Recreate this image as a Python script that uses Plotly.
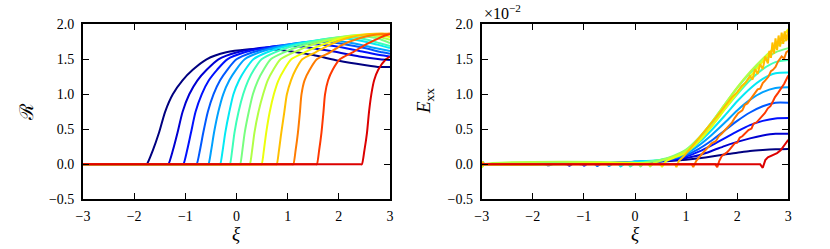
import plotly.graph_objects as go

# ---------------- data ----------------
TICKS_X = [-3, -2, -1, 0, 1, 2, 3]
TICKS_Y = [-0.5, 0.0, 0.5, 1.0, 1.5, 2.0]

# Left panel: R(xi), 14 curves
LEFT_XI = [
    [-3, -1.785, -1.755, -1.635, -1.515, -1.395, -1.245, -1.055, -0.855, -0.585, -0.2, 0.2, 0.55, 1.0, 1.5, 2.0, 2.5, 2.8, 3.0],
    [-3, -1.363, -1.333, -1.243, -1.153, -1.053, -0.923, -0.763, -0.583, -0.353, 0.017, 0.45, 1.0, 1.4, 1.9, 2.4, 2.8, 3.0],
    [-3, -1.07, -1.04, -0.965, -0.89, -0.80, -0.68, -0.54, -0.38, -0.18, 0.16, 0.6, 1.1, 1.4, 1.9, 2.4, 2.8, 3.0],
    [-3, -0.81, -0.78, -0.715, -0.65, -0.56, -0.45, -0.32, -0.18, 0.0, 0.32, 0.75, 1.2, 1.6, 2.0, 2.5, 2.85, 3.0],
    [-3, -0.58, -0.55, -0.495, -0.44, -0.355, -0.26, -0.14, -0.01, 0.16, 0.45, 0.95, 1.4, 1.8, 2.2, 2.65, 3.0],
    [-3, -0.35, -0.32, -0.27, -0.22, -0.14, -0.06, 0.05, 0.17, 0.33, 0.60, 1.05, 1.55, 2.0, 2.4, 2.75, 3.0],
    [-3, -0.16, -0.13, -0.085, -0.04, 0.04, 0.13, 0.23, 0.34, 0.49, 0.75, 1.15, 1.65, 2.1, 2.5, 2.8, 3.0],
    [-3, 0.04, 0.07, 0.115, 0.16, 0.24, 0.32, 0.42, 0.53, 0.67, 0.93, 1.3, 1.8, 2.3, 2.75, 3.0],
    [-3, 0.23, 0.26, 0.305, 0.35, 0.43, 0.52, 0.61, 0.72, 0.86, 1.12, 1.45, 1.95, 2.45, 2.8, 3.0],
    [-3, 0.46, 0.49, 0.535, 0.58, 0.65, 0.73, 0.82, 0.93, 1.07, 1.33, 1.65, 2.05, 2.6, 3.0],
    [-3, 0.755, 0.785, 0.83, 0.875, 0.935, 0.985, 1.065, 1.155, 1.285, 1.545, 1.8, 2.15, 2.6, 2.85, 3.0],
    [-3, 1.08, 1.11, 1.155, 1.2, 1.24, 1.27, 1.33, 1.43, 1.57, 1.83, 2.05, 2.4, 2.7, 3.0],
    [-3, 1.54, 1.57, 1.615, 1.66, 1.70, 1.73, 1.79, 1.88, 2.02, 2.27, 2.5, 2.72, 2.9, 3.0],
    [-3, 2.42, 2.45, 2.50, 2.55, 2.59, 2.635, 2.69, 2.77, 2.92, 3.0],
]
LEFT_R = [
    [0, 0, 0, 0.2, 0.45, 0.75, 1.0, 1.2, 1.35, 1.5, 1.6, 1.64, 1.65, 1.62, 1.56, 1.48, 1.42, 1.39, 1.39],
    [0, 0, 0, 0.2, 0.45, 0.75, 1.0, 1.2, 1.35, 1.5, 1.6, 1.66, 1.69, 1.67, 1.61, 1.54, 1.50, 1.49],
    [0, 0, 0, 0.2, 0.45, 0.75, 1.0, 1.2, 1.35, 1.5, 1.6, 1.67, 1.71, 1.72, 1.69, 1.62, 1.56, 1.54],
    [0, 0, 0, 0.2, 0.45, 0.75, 1.0, 1.2, 1.35, 1.5, 1.6, 1.68, 1.73, 1.75, 1.73, 1.66, 1.60, 1.58],
    [0, 0, 0, 0.2, 0.45, 0.75, 1.0, 1.2, 1.35, 1.5, 1.6, 1.7, 1.75, 1.77, 1.74, 1.67, 1.62],
    [0, 0, 0, 0.2, 0.45, 0.75, 1.0, 1.2, 1.35, 1.5, 1.6, 1.7, 1.77, 1.80, 1.77, 1.71, 1.66],
    [0, 0, 0, 0.2, 0.45, 0.75, 1.0, 1.2, 1.35, 1.5, 1.6, 1.7, 1.78, 1.82, 1.79, 1.73, 1.69],
    [0, 0, 0, 0.2, 0.45, 0.75, 1.0, 1.2, 1.35, 1.5, 1.6, 1.7, 1.79, 1.84, 1.80, 1.73],
    [0, 0, 0, 0.2, 0.45, 0.75, 1.0, 1.2, 1.35, 1.5, 1.6, 1.7, 1.8, 1.85, 1.82, 1.78],
    [0, 0, 0, 0.2, 0.45, 0.75, 1.0, 1.2, 1.35, 1.5, 1.6, 1.7, 1.8, 1.86, 1.82],
    [0, 0, 0, 0.2, 0.45, 0.75, 1.0, 1.2, 1.35, 1.5, 1.6, 1.7, 1.8, 1.86, 1.87, 1.86],
    [0, 0, 0, 0.2, 0.45, 0.75, 1.0, 1.2, 1.35, 1.5, 1.6, 1.7, 1.8, 1.85, 1.87],
    [0, 0, 0, 0.2, 0.45, 0.75, 1.0, 1.2, 1.35, 1.5, 1.6, 1.7, 1.78, 1.84, 1.86],
    [0, 0, 0, 0.2, 0.45, 0.75, 1.0, 1.2, 1.35, 1.5, 1.54],
]

# Right panel: E_xx (in units of 1e-2), 14 curves
RIGHT_XI = [
    [-3, -1.755, -1.7, -1.6, -1.0, -0.5, 0.0, 0.5, 0.75, 1.0, 1.25, 1.5, 1.75, 2.0, 2.25, 2.5, 2.75, 3.0],
    [-3, -1.333, -1.29, -1.2, -0.5, 0.0, 0.5, 0.75, 1.0, 1.25, 1.5, 1.75, 2.0, 2.25, 2.5, 2.75, 3.0],
    [-3, -1.04, -1.0, -0.92, -0.5, 0.0, 0.5, 0.75, 1.0, 1.25, 1.5, 1.75, 2.0, 2.25, 2.5, 2.75, 3.0],
    [-3, -0.78, -0.74, -0.66, -0.3, 0.0, 0.5, 0.75, 1.0, 1.25, 1.5, 1.75, 2.0, 2.25, 2.5, 2.75, 3.0],
    [-3, -0.55, -0.51, -0.43, 0.0, 0.5, 0.75, 1.0, 1.25, 1.5, 1.75, 2.0, 2.25, 2.5, 2.75, 3.0],
    [-3, -0.32, -0.28, -0.2, 0.0, 0.5, 0.75, 1.0, 1.25, 1.5, 1.75, 2.0, 2.25, 2.5, 2.75, 3.0],
    [-3, -2.97, -2.94, -0.13, -0.09, -0.01, 0.5, 0.75, 1.0, 1.25, 1.5, 1.75, 2.0, 2.25, 2.5, 2.75, 3.0],
    [-3, -2.98, -2.95, 0.07, 0.11, 0.18, 0.5, 0.75, 1.0, 1.25, 1.5, 1.75, 2.0, 2.25, 2.5, 2.75, 3.0],
    [-3, -2.98, -2.95, 0.26, 0.30, 0.37, 0.5, 0.75, 1.0, 1.25, 1.5, 1.75, 2.0, 2.25, 2.5, 2.75, 3.0],
    [-3, -2.98, -2.96, 0.49, 0.53, 0.6, 0.75, 1.0, 1.25, 1.5, 1.75, 2.0, 2.25, 2.5, 2.75, 3.0],
    [-3, -2.98, -2.96, 0.785, 0.81, 0.86, 0.95, 1.1, 1.25, 1.44, 1.6, 1.76, 1.9, 2.0, 2.09, 2.17, 2.25, 2.3,
     2.35, 2.4, 2.45, 2.5, 2.55, 2.6, 2.63, 2.66, 2.69, 2.72, 2.75, 2.78, 2.81, 2.84, 2.87, 2.9, 2.93, 2.96, 3.0],
    [-3, 1.11, 1.14, 1.2, 1.3, 1.37, 1.45, 1.5, 1.58, 1.64, 1.7, 1.78, 1.85, 1.9, 1.95, 2.02, 2.1, 2.15, 2.2,
     2.28, 2.35, 2.4, 2.45, 2.5, 2.55, 2.61, 2.66, 2.7, 2.75, 2.8, 2.87, 2.92, 2.96, 3.0],
    [-3, 1.57, 1.61, 1.65, 1.7, 1.8, 1.85, 1.89, 1.95, 2.0, 2.05, 2.1, 2.16, 2.22, 2.28, 2.32, 2.38, 2.45,
     2.54, 2.6, 2.65, 2.7, 2.74, 2.8, 2.86, 2.92, 3.0],
    [-3, 2.45, 2.5, 2.55, 2.6, 2.7, 2.78, 2.85, 2.9, 2.95, 3.0],
]
RIGHT_E = [
    [0, 0, -0.015, 0.005, 0.01, 0.015, 0.025, 0.04, 0.05, 0.065, 0.085, 0.11, 0.14, 0.165, 0.19, 0.205, 0.215, 0.22],
    [0, 0, -0.02, 0.01, 0.02, 0.03, 0.045, 0.06, 0.09, 0.13, 0.19, 0.26, 0.32, 0.37, 0.41, 0.435, 0.435],
    [0, 0, -0.02, 0.01, 0.02, 0.035, 0.05, 0.07, 0.11, 0.18, 0.27, 0.37, 0.47, 0.56, 0.62, 0.655, 0.66],
    [0, 0, -0.025, 0.01, 0.025, 0.035, 0.05, 0.08, 0.13, 0.22, 0.34, 0.48, 0.62, 0.74, 0.83, 0.88, 0.88],
    [0, 0, -0.025, 0.01, 0.035, 0.055, 0.09, 0.15, 0.27, 0.42, 0.59, 0.77, 0.92, 1.03, 1.09, 1.10],
    [0, 0, -0.03, 0.01, 0.035, 0.06, 0.10, 0.17, 0.31, 0.49, 0.69, 0.90, 1.08, 1.22, 1.30, 1.31],
    [0, 0.03, 0, 0, -0.03, 0.01, 0.06, 0.11, 0.19, 0.35, 0.55, 0.78, 1.0, 1.2, 1.36, 1.46, 1.49],
    [-0.04, 0.02, 0, 0, -0.03, 0.02, 0.065, 0.12, 0.21, 0.38, 0.6, 0.85, 1.09, 1.3, 1.47, 1.6, 1.66],
    [0.03, -0.03, 0, 0, -0.03, 0.02, 0.05, 0.11, 0.2, 0.37, 0.6, 0.85, 1.1, 1.32, 1.51, 1.67, 1.80],
    [-0.05, 0.01, 0, 0, -0.035, 0.04, 0.09, 0.17, 0.33, 0.54, 0.78, 1.02, 1.25, 1.47, 1.7, 1.93],
    [-0.02, 0.04, 0, 0, -0.04, 0.05, 0.11, 0.24, 0.37, 0.54, 0.68, 0.83, 0.96, 1.03, 1.12, 1.17, 1.26, 1.21,
     1.36, 1.29, 1.43, 1.36, 1.54, 1.44, 1.62, 1.52, 1.74, 1.58, 1.80, 1.63, 1.84, 1.68, 1.88, 1.72, 1.90, 1.76, 1.92],
    [0, 0, -0.04, 0.05, 0.14, 0.2, 0.26, 0.3, 0.33, 0.4, 0.44, 0.5, 0.55, 0.6, 0.66, 0.73, 0.77, 0.85, 0.87,
     0.95, 1.01, 1.07, 1.08, 1.16, 1.2, 1.25, 1.33, 1.35, 1.39, 1.47, 1.54, 1.51, 1.6, 1.62],
    [0, 0, -0.04, 0.05, 0.12, 0.17, 0.21, 0.25, 0.3, 0.31, 0.38, 0.4, 0.44, 0.49, 0.51, 0.58, 0.6, 0.66,
     0.73, 0.8, 0.83, 0.9, 0.96, 1.02, 1.08, 1.15, 1.27],
    [0, 0, -0.05, 0.06, 0.1, 0.13, 0.16, 0.2, 0.25, 0.29, 0.35],
]
NOISY_RIGHT = [10, 11, 12, 13]

# ---------------- style ----------------
def jet(t):
    def seg(pts, t):
        for (x0, y0), (x1, y1) in zip(pts[:-1], pts[1:]):
            if x0 <= t <= x1:
                return y0 + (y1 - y0) * (t - x0) / (x1 - x0)
        return pts[-1][1]
    r = seg([(0, 0), (0.35, 0), (0.66, 1), (0.89, 1), (1, 0.5)], t)
    g = seg([(0, 0), (0.125, 0), (0.375, 1), (0.64, 1), (0.91, 0), (1, 0)], t)
    b = seg([(0, 0.5), (0.11, 1), (0.34, 1), (0.65, 0), (1, 0)], t)
    return "rgb(%d,%d,%d)" % (round(r * 255), round(g * 255), round(b * 255))

N = len(LEFT_XI)
COLORS = [jet(i * 0.92 / (N - 1)) for i in range(N)]

W, H = 830, 249
FONT = "Liberation Serif"

def px(x):
    return x / W

def py(y):
    return 1 - y / H

fig = go.Figure()
for i in range(N):
    fig.add_trace(go.Scatter(x=LEFT_XI[i], y=LEFT_R[i], mode="lines",
                             line=dict(color=COLORS[i], width=2, shape="spline", smoothing=0.7),
                             xaxis="x", yaxis="y", showlegend=False, hoverinfo="skip"))
for i in range(N):
    noisy = i in NOISY_RIGHT
    fig.add_trace(go.Scatter(x=RIGHT_XI[i], y=RIGHT_E[i], mode="lines",
                             line=dict(color=COLORS[i], width=2,
                                       shape="linear" if noisy else "spline",
                                       smoothing=0.7),
                             xaxis="x2", yaxis="y2", showlegend=False, hoverinfo="skip"))

ydom = [py(199.3), py(24.3)]
axis_common = dict(
    showgrid=False, zeroline=False, showline=True, linecolor="black", linewidth=1.8,
    mirror="ticks", ticks="inside", ticklen=6, tickwidth=1, tickcolor="black",
    automargin=False,
    tickfont=dict(family=FONT, size=14, color="black"),
)
LBL = dict(family=FONT, size=19, color="black")
fig.update_layout(
    width=W, height=H,
    margin=dict(l=0, r=0, t=0, b=0, pad=0, autoexpand=False),
    paper_bgcolor="white", plot_bgcolor="white",
    font=dict(family=FONT, size=14, color="black"),
    xaxis=dict(domain=[px(83), px(390)], range=[-3, 3], tickvals=TICKS_X, anchor="y",
               ticklabelstandoff=3, **axis_common),
    yaxis=dict(domain=ydom, range=[-0.5, 2.0], tickvals=TICKS_Y, tickformat=".1f", anchor="x",
               ticklabelstandoff=4, **axis_common),
    xaxis2=dict(domain=[px(481.7), px(788.3)], range=[-3, 3], tickvals=TICKS_X, anchor="y2",
                ticklabelstandoff=3, **axis_common),
    yaxis2=dict(domain=ydom, range=[-0.5, 2.0], tickvals=TICKS_Y, tickformat=".1f", anchor="x2",
                ticklabelstandoff=4, **axis_common),
    annotations=[
        dict(text="<i>ξ</i>", x=px(236.5), y=py(233), xref="paper", yref="paper",
             xanchor="center", yanchor="middle", showarrow=False, font=LBL),
        dict(text="<i>ξ</i>", x=px(635), y=py(233), xref="paper", yref="paper",
             xanchor="center", yanchor="middle", showarrow=False, font=LBL),
        dict(text="ℛ", x=px(26), y=py(112), xref="paper", yref="paper", textangle=-90,
             xanchor="center", yanchor="middle", showarrow=False, font=LBL),
        dict(text="<i>E</i><sub>xx</sub>", x=px(425), y=py(101), xref="paper", yref="paper",
             textangle=-90, xanchor="center", yanchor="middle", showarrow=False, font=LBL),
        dict(text="×10<sup>−2</sup>", x=px(482), y=py(0), xref="paper", yref="paper",
             xanchor="left", yanchor="top", showarrow=False,
             font=dict(family=FONT, size=16, color="black")),
    ],
)

fig.write_html("out.html", config={"displayModeBar": False},
               post_script="document.body.style.margin='0';")
